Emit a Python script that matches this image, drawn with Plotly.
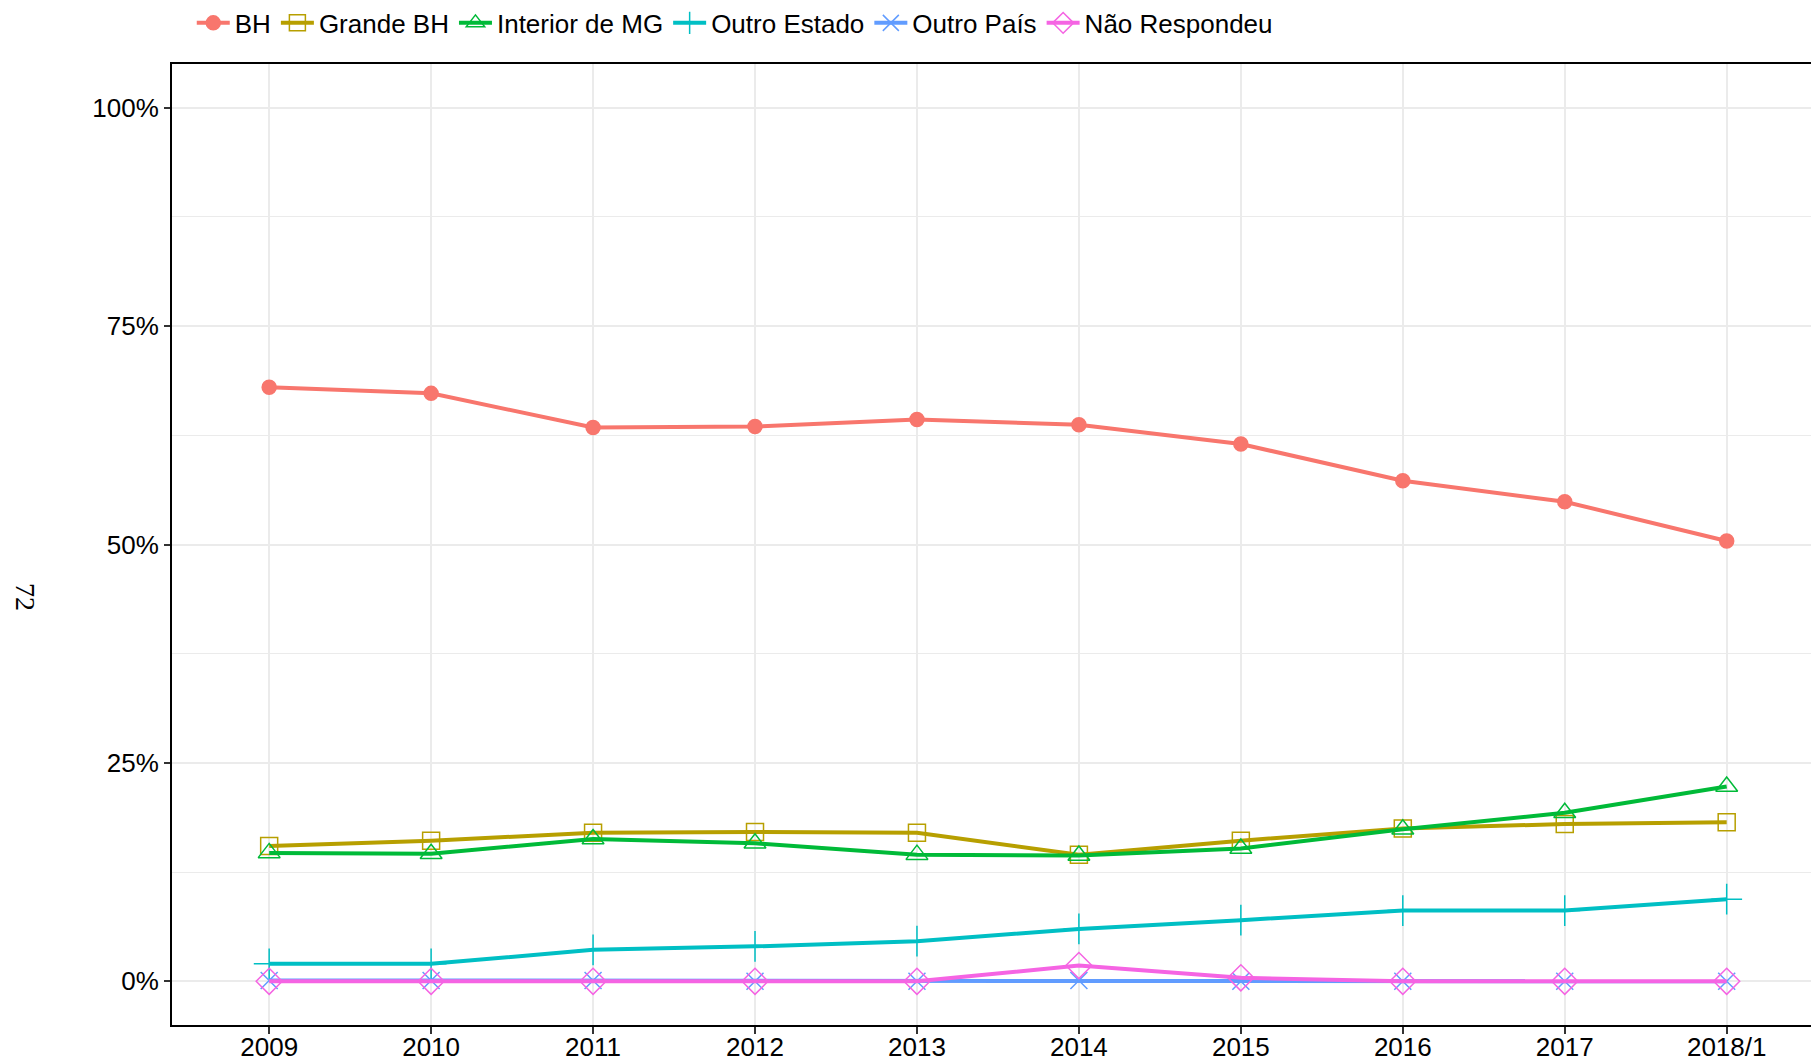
import plotly.graph_objects as go

anos = ["2009", "2010", "2011", "2012", "2013", "2014", "2015", "2016", "2017", "2018/1"]

bh = [68.0, 67.3, 63.4, 63.5, 64.3, 63.7, 61.5, 57.3, 54.9, 50.4]
grande_bh = [15.5, 16.1, 17.0, 17.1, 17.0, 14.5, 16.1, 17.5, 18.0, 18.2]
interior_mg = [14.7, 14.6, 16.3, 15.8, 14.5, 14.4, 15.2, 17.4, 19.3, 22.3]
outro_estado = [2.0, 2.0, 3.6, 4.0, 4.6, 6.0, 7.0, 8.1, 8.1, 9.4]
outro_pais = [0.1, 0.1, 0.1, 0.0, 0.0, 0.1, 0.0, 0.0, 0.0, 0.0]
nao_respondeu = [0.0, 0.0, 0.0, 0.0, 0.0, 1.8, 0.4, 0.0, 0.0, 0.0]

series = [
    ("BH", bh, "#F8766D", "circle", 14),
    ("Grande BH", grande_bh, "#B79F00", "square-open", 17),
    ("Interior de MG", interior_mg, "#00BA38", "triangle-up-open", 19),
    ("Outro Estado", outro_estado, "#00BFC4", "cross-thin-open", 22),
    ("Outro País", outro_pais, "#619CFF", "x-thin-open", 17),
    ("Não Respondeu", nao_respondeu, "#F564E3", "diamond-open", 20),
]

fig = go.Figure()
for name, vals, color, symbol, size in series:
    fig.add_trace(go.Scatter(
        x=list(range(len(anos))), y=vals, name=name, mode="lines+markers",
        line=dict(color=color, width=4),
        marker=dict(symbol=symbol, size=size, color=color,
                    line=dict(color=color, width=1.5)),
    ))

# page body shifts the figure 8px right and down, so the size is trimmed
grid = "#EBEBEB"
fig.update_layout(
    width=1811, height=1055,
    margin=dict(l=164, r=0, t=56, b=38, autoexpand=False),
    plot_bgcolor="white", paper_bgcolor="white",
    font=dict(family="Liberation Sans, Arial", size=26, color="black"),
    showlegend=True,
    legend=dict(orientation="h", x=0.012, xanchor="left", y=1.0427, yanchor="middle",
                font=dict(size=26), itemwidth=33, tracegroupgap=0,
                bgcolor="rgba(0,0,0,0)"),
    xaxis=dict(
        tickmode="array", tickvals=list(range(len(anos))), ticktext=anos,
        range=[-0.6, 9.57], showgrid=True, gridcolor=grid, gridwidth=1.5,
        zeroline=False, showline=True, linecolor="black", linewidth=2, mirror=True,
        ticks="outside", ticklen=7, tickcolor="#333333", tickwidth=2,
        ticklabelstandoff=-9,
        tickfont=dict(size=26, color="black"),
    ),
    yaxis=dict(
        range=[-5, 105], tickvals=[0, 25, 50, 75, 100],
        ticktext=["0%", "25%", "50%", "75%", "100%"],
        showgrid=True, gridcolor=grid, gridwidth=2,
        minor=dict(tickvals=[12.5, 37.5, 62.5, 87.5], showgrid=True,
                   gridcolor=grid, gridwidth=1),
        zeroline=False, showline=True, linecolor="black", linewidth=2,
        ticks="outside", ticklen=6, tickcolor="#333333", tickwidth=2,
        tickfont=dict(size=26, color="black"),
    ),
    annotations=[dict(
        text="72", textangle=90, xref="paper", yref="paper",
        x=-0.0893, y=0.4454, xanchor="center", yanchor="middle", showarrow=False,
        font=dict(family="Liberation Serif", size=28, color="black"),
    )],
)

fig.write_html("out.html")
